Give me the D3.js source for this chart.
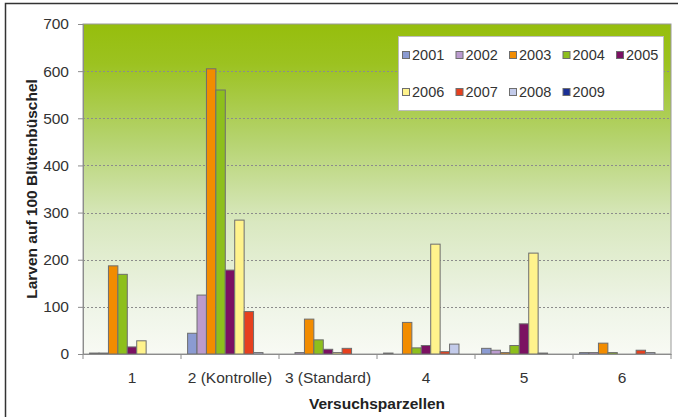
<!DOCTYPE html>
<html>
<head>
<meta charset="utf-8">
<script src="https://cdn.jsdelivr.net/npm/d3@7"></script>
<style>
body { margin: 0; background: #fff; }
text { font-family: "Liberation Sans", Arial, sans-serif; }
</style>
</head>
<body>
<svg id="chart" width="678" height="417"></svg>
<script>
var categories = ['1', '2 (Kontrolle)', '3 (Standard)', '4', '5', '6'];
var years = ['2001', '2002', '2003', '2004', '2005', '2006', '2007', '2008', '2009'];
var v2001 = [2, 44, 0, 2, 12, 3];
var v2002 = [2, 125, 3, 0, 8, 3];
var v2003 = [187, 605, 74, 67, 3, 23];
var v2004 = [169, 560, 30, 13, 18, 3];
var v2005 = [15, 178, 10, 18, 64, 0];
var v2006 = [28, 284, 3, 233, 214, 0];
var v2007 = [0, 90, 12, 5, 2, 8];
var v2008 = [0, 3, 0, 21, 0, 3];
var v2009 = [0, 0, 0, 0, 0, 0];
var yTicks = [0, 100, 200, 300, 400, 500, 600, 700];
var colors = ['#8b9bd2', '#bb9bcf', '#f28c00', '#8dbf1c', '#7b1162', '#fff38c', '#e6401e', '#c3cbea', '#1b2f95'];

var series = [v2001, v2002, v2003, v2004, v2005, v2006, v2007, v2008, v2009];
var bars = [];
years.forEach(function(yr, i) {
	categories.forEach(function(c, j) {
		bars.push({'year': yr, 'cat': c, 'v': series[i][j], 'col': colors[i]});
	});
});

var svg = d3.select('#chart');
var pLeft = 83, pRight = 671, pTop = 24, pBottom = 354;

var x = d3.scaleBand().domain(categories).range([pLeft, pRight]).padding(0);
var xi = d3.scaleBand().domain(years).range([0, x.bandwidth()]).paddingInner(0).paddingOuter(0.7);
var y = d3.scaleLinear().domain([0, 700]).range([pBottom, pTop]);

// outer frame
svg.append('rect').attr('x', 5.5).attr('y', 3.5).attr('width', 700).attr('height', 500)
	.attr('fill', 'none').attr('stroke', '#333').attr('stroke-width', 1.5);

// plot background
var grad = svg.append('defs').append('linearGradient').attr('id', 'bg')
	.attr('x1', 0).attr('y1', 0).attr('x2', 0).attr('y2', 1);
[[0, '#96be0c'], [0.12, '#9cc220'], [0.35, '#b5d36e'], [0.6, '#d9e8c0'], [0.85, '#eef4e6'], [1, '#f8faf4']]
	.forEach(function(s) { grad.append('stop').attr('offset', s[0]).attr('stop-color', s[1]); });
svg.append('rect').attr('x', pLeft).attr('y', pTop).attr('width', pRight - pLeft).attr('height', pBottom - pTop)
	.attr('fill', 'url(#bg)').attr('stroke', '#9a9a9a').attr('stroke-width', 1);

// gridlines
svg.selectAll('.grid').data(yTicks.filter(function(d) { return d > 0 && d < 700; })).enter().append('line')
	.attr('x1', pLeft).attr('x2', pRight).attr('y1', function(d) { return Math.round(y(d)) + 0.5; })
	.attr('y2', function(d) { return Math.round(y(d)) + 0.5; })
	.attr('stroke', '#8c8c8c').attr('stroke-width', 1.2).attr('stroke-dasharray', '2,2');

// bars
svg.selectAll('.bar').data(bars.filter(function(d) { return d.v > 0; })).enter().append('rect')
	.attr('x', function(d) { return x(d.cat) + xi(d.year); })
	.attr('y', function(d) { return y(d.v); })
	.attr('width', xi.bandwidth())
	.attr('height', function(d) { return pBottom - y(d.v); })
	.attr('fill', function(d) { return d.col; })
	.attr('stroke', '#6e6e6e').attr('stroke-width', 1);

// axes
var yAxis = svg.append('g').attr('transform', 'translate(' + pLeft + ',0)')
	.call(d3.axisLeft(y).tickValues(yTicks).tickSize(5).tickPadding(9));
var xAxis = svg.append('g').attr('transform', 'translate(0,' + pBottom + ')')
	.call(d3.axisBottom(x).tickSize(0).tickPadding(18));
xAxis.selectAll('.tick').append('line').attr('x1', -x.bandwidth() / 2).attr('x2', -x.bandwidth() / 2)
	.attr('y1', 0).attr('y2', 5).attr('stroke', '#8c8c8c');
xAxis.append('line').attr('x1', pRight).attr('x2', pRight).attr('y1', 0).attr('y2', 5).attr('stroke', '#8c8c8c');
[yAxis, xAxis].forEach(function(a) {
	a.select('.domain').attr('stroke', '#8c8c8c');
	a.selectAll('.tick line').attr('stroke', '#8c8c8c');
	a.selectAll('text').attr('font-size', 15.5).attr('fill', '#333')
		.style('font-family', '"Liberation Sans", Arial, sans-serif');
});

// titles
svg.append('text').attr('transform', 'translate(37,189) rotate(-90)').attr('text-anchor', 'middle')
	.attr('font-size', 15.5).attr('font-weight', 'bold').attr('fill', '#222').text('Larven auf 100 Blütenbüschel');
svg.append('text').attr('x', 377).attr('y', 409).attr('text-anchor', 'middle')
	.attr('font-size', 15.5).attr('font-weight', 'bold').attr('fill', '#222').text('Versuchsparzellen');

// legend
var lg = svg.append('g');
lg.append('rect').attr('x', 398.5).attr('y', 36.5).attr('width', 265).attr('height', 74)
	.attr('fill', '#fff').attr('stroke', '#bdbdbd');
var item = lg.selectAll('.item').data(years).enter().append('g')
	.attr('transform', function(d, i) { return 'translate(' + (402 + (i % 5) * 53.5) + ',' + (i < 5 ? 55 : 92) + ')'; });
item.append('rect').attr('x', 0.5).attr('y', -3.5).attr('width', 7).attr('height', 7)
	.attr('fill', function(d, i) { return colors[i]; }).attr('stroke', '#6e6e6e');
item.append('text').attr('x', 10).attr('y', 5).attr('font-size', 14.5).attr('fill', '#333').text(function(d) { return d; });
</script>
</body>
</html>
